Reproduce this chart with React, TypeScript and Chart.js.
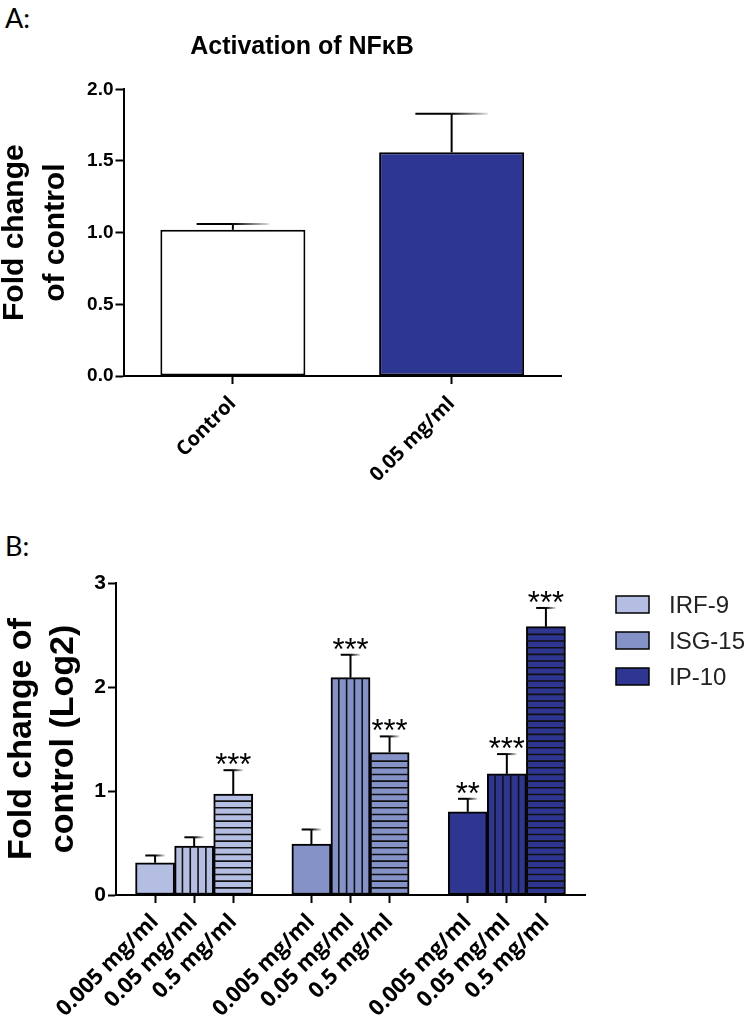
import React, { useEffect, useRef } from 'react';
import { Chart, registerables } from 'chart.js';

Chart.register(...registerables);

// ---------- Panel A data ----------
const labelsA = ['Control', '0.05 mg/ml'];
const valuesA = [1.02, 1.56];
const errorsA = [0.04, 0.27];
const colorsA = ['#ffffff', '#2e3694'];
const yTicksA = ['0.0', '0.5', '1.0', '1.5', '2.0'];
const titleA = 'Activation of NF\u03baB';
const yTitleA = ['Fold change', 'of control'];

// ---------- Panel B data ----------
const genes = ['IRF-9', 'ISG-15', 'IP-10'];
const geneColors = ['#b4bee2', '#8592c8', '#2e3692'];
const doses = ['0.005 mg/ml', '0.05 mg/ml', '0.5 mg/ml'];
const dosePatterns = ['solid', 'vertical', 'horizontal'];
const irf9 = [0.31, 0.47, 0.97];
const isg15 = [0.49, 2.09, 1.37];
const ip10 = [0.8, 1.165, 2.58];
const irf9Err = [0.07, 0.085, 0.23];
const isg15Err = [0.14, 0.22, 0.155];
const ip10Err = [0.125, 0.19, 0.18];
const irf9Sig = ['', '', '***'];
const isg15Sig = ['', '***', '***'];
const ip10Sig = ['**', '***', '***'];
const yTicksB = ['0', '1', '2', '3'];
const yTitleB = ['Fold change of', 'control (Log2)'];

const FONT = 'Liberation Sans';
const LABEL_FONT = 'Open Sans';

// Build the grouped layout: empty slot before, between and after groups
const geneValues = [irf9, isg15, ip10];
const geneErrs = [irf9Err, isg15Err, ip10Err];
const geneSigs = [irf9Sig, isg15Sig, ip10Sig];
const labelsB: string[] = [''];
const valuesB: (number | null)[] = [null];
const errorsB: (number | null)[] = [null];
const sigsB: string[] = [''];
const colorsB: string[] = ['#ffffff'];
const patternsB: string[] = [''];
genes.forEach((_, g) => {
  doses.forEach((d, k) => {
    labelsB.push(d);
    valuesB.push(geneValues[g][k]);
    errorsB.push(geneErrs[g][k]);
    sigsB.push(geneSigs[g][k]);
    colorsB.push(geneColors[g]);
    patternsB.push(dosePatterns[k]);
  });
  labelsB.push('');
  valuesB.push(null);
  errorsB.push(null);
  sigsB.push('');
  colorsB.push('#ffffff');
  patternsB.push('');
});

const errorBarPlugin = {
  id: 'errorBarsAndPatterns',
  afterDatasetsDraw(chart: any) {
    const ctx = chart.ctx;
    const yScale = chart.scales.y;
    chart.data.datasets.forEach((ds: any, di: number) => {
      const meta = chart.getDatasetMeta(di);
      const errs = ds.errorBars || [];
      const sigs = ds.sig || [];
      const patterns = ds.patterns || [];
      meta.data.forEach((el: any, i: number) => {
        const v = ds.data[i];
        if (v === null || v === undefined) return;
        const { x, y, base, width } = el.getProps(['x', 'y', 'base', 'width'], true);
        const left = x - width / 2;
        const right = x + width / 2;
        const p = patterns[i];
        if (p === 'vertical' || p === 'horizontal') {
          ctx.save();
          ctx.beginPath();
          ctx.rect(left, y, width, base - y);
          ctx.clip();
          ctx.strokeStyle = '#111';
          ctx.lineWidth = 1.6;
          ctx.beginPath();
          if (p === 'vertical') {
            for (let k = 1; k < 5; k++) {
              const xx = left + (width * k) / 5;
              ctx.moveTo(xx, y);
              ctx.lineTo(xx, base);
            }
          } else {
            for (let yy = base - 6.67; yy > y + 3; yy -= 6.67) {
              ctx.moveTo(left, yy);
              ctx.lineTo(right, yy);
            }
          }
          ctx.stroke();
          ctx.restore();
        }
        const e = errs[i];
        if (e) {
          const yt = yScale.getPixelForValue(v + e);
          const half = width / 4;
          ctx.save();
          ctx.strokeStyle = '#000';
          ctx.lineWidth = 2;
          ctx.beginPath();
          ctx.moveTo(x, y);
          ctx.lineTo(x, yt);
          ctx.stroke();
          ctx.beginPath();
          ctx.moveTo(x - half, yt);
          ctx.lineTo(x, yt);
          ctx.stroke();
          const grad = ctx.createLinearGradient(x, 0, x + half, 0);
          grad.addColorStop(0, '#000');
          grad.addColorStop(1, '#e0e0e0');
          ctx.strokeStyle = grad;
          ctx.beginPath();
          ctx.moveTo(x, yt);
          ctx.lineTo(x + half, yt);
          ctx.stroke();
          ctx.restore();
          const s = sigs[i];
          if (s) {
            ctx.save();
            ctx.fillStyle = '#000';
            ctx.font = `31px "${FONT}"`;
            ctx.textAlign = 'center';
            ctx.textBaseline = 'alphabetic';
            ctx.fillText(s, x, yt + 5);
            ctx.restore();
          }
        }
      });
    });
  },
};

// Legend for panel B, drawn next to the chart area from the genes / colours arrays
const geneLegendPlugin = {
  id: 'geneLegend',
  afterDraw(chart: any) {
    const ctx = chart.ctx;
    const area = chart.chartArea;
    const boxX = area.right + 31;
    ctx.save();
    genes.forEach((g, i) => {
      const top = area.top + 13 + i * 36;
      ctx.fillStyle = geneColors[i];
      ctx.fillRect(boxX, top, 33, 17);
      ctx.strokeStyle = '#000';
      ctx.lineWidth = 1.5;
      ctx.strokeRect(boxX, top, 33, 17);
      ctx.fillStyle = '#222';
      ctx.font = `24px "${FONT}"`;
      ctx.textAlign = 'left';
      ctx.textBaseline = 'alphabetic';
      ctx.fillText(g, boxX + 53, top + 17);
    });
    ctx.restore();
  },
};

const PAD_A_LEFT = 43;
const CANVAS_A_H = 498;

export default function App() {
  const refA = useRef<HTMLCanvasElement>(null);
  const refB = useRef<HTMLCanvasElement>(null);

  useEffect(() => {
    Chart.defaults.font.family = FONT;
    const chartA = new Chart(refA.current as HTMLCanvasElement, {
      type: 'bar',
      data: {
        labels: labelsA,
        datasets: [
          {
            data: valuesA,
            backgroundColor: colorsA,
            borderColor: '#000',
            borderWidth: 2,
            borderSkipped: false,
            barPercentage: 0.663,
            categoryPercentage: 1,
            errorBars: errorsA,
          } as any,
        ],
      },
      options: {
        responsive: false,
        animation: false,
        layout: { padding: { left: PAD_A_LEFT, right: 189, top: 0, bottom: 0 } },
        plugins: {
          legend: { display: false },
          tooltip: { enabled: false },
          title: {
            display: true,
            text: titleA,
            color: '#000',
            font: { family: FONT, size: 25, weight: 'bold', lineHeight: 1.2 },
            padding: { top: 32.4, bottom: 26.9 },
          },
        },
        scales: {
          x: {
            type: 'category',
            offset: true,
            grid: { offset: false, drawOnChartArea: false, tickLength: 8, tickWidth: 2, tickColor: '#000' },
            border: { color: '#000', width: 2 },
            ticks: {
              autoSkip: false,
              maxRotation: 45,
              minRotation: 45,
              color: '#000',
              padding: 8,
              font: { family: LABEL_FONT, size: 20, weight: 'bold' },
            },
            afterFit: (s: any) => {
              s.height = CANVAS_A_H - 376;
            },
          },
          y: {
            type: 'linear',
            min: 0,
            max: 2,
            ticks: {
              stepSize: 0.5,
              color: '#000',
              padding: 2,
              font: { family: FONT, size: 19, weight: 'bold' },
              callback: (v: any) => yTicksA[Math.round(Number(v) / 0.5)],
            },
            grid: { drawOnChartArea: false, tickLength: 8, tickWidth: 2, tickColor: '#000' },
            border: { color: '#000', width: 2 },
            title: {
              display: true,
              text: yTitleA,
              color: '#000',
              font: { family: FONT, size: 30, weight: 'bold', lineHeight: 1.367 },
              padding: { top: 15.1 - 20.5 - PAD_A_LEFT, bottom: 0 },
            },
            afterFit: (s: any) => {
              s.width = 123.5 - PAD_A_LEFT;
            },
          },
        },
      } as any,
      plugins: [errorBarPlugin],
    });

    const chartB = new Chart(refB.current as HTMLCanvasElement, {
      type: 'bar',
      data: {
        labels: labelsB,
        datasets: [
          {
            data: valuesB,
            backgroundColor: colorsB,
            borderColor: '#000',
            borderWidth: 2,
            borderSkipped: false,
            barPercentage: 1,
            categoryPercentage: 1,
            errorBars: errorsB,
            sig: sigsB,
            patterns: patternsB,
          } as any,
        ],
      },
      options: {
        responsive: false,
        animation: false,
        layout: { padding: { left: 0, right: 165, top: 83, bottom: 0 } },
        plugins: {
          tooltip: { enabled: false },
          title: { display: false },
          legend: { display: false },
        },
        scales: {
          x: {
            type: 'category',
            offset: false,
            grid: {
              offset: false,
              drawOnChartArea: false,
              tickLength: 8,
              tickWidth: 2,
              tickColor: (c: any) => (labelsB[c.index] ? '#000' : 'rgba(0,0,0,0)'),
            },
            border: { color: '#000', width: 2 },
            ticks: {
              autoSkip: false,
              maxRotation: 45,
              minRotation: 45,
              color: '#000',
              padding: 6,
              font: { family: LABEL_FONT, size: 22, weight: 'bold' },
            },
            afterFit: (s: any) => {
              s.height = 135;
            },
          },
          y: {
            type: 'linear',
            min: 0,
            max: 3,
            ticks: {
              stepSize: 1,
              color: '#000',
              padding: 2,
              font: { family: FONT, size: 21, weight: 'bold' },
              callback: (v: any) => yTicksB[Math.round(Number(v))],
            },
            grid: { drawOnChartArea: false, tickLength: 8, tickWidth: 2, tickColor: '#000' },
            border: { color: '#000', width: 2 },
            title: {
              display: true,
              text: yTitleB,
              color: '#000',
              font: { family: FONT, size: 34, weight: 'bold', lineHeight: 1.25 },
              padding: { top: 0, bottom: 0 },
            },
            afterFit: (s: any) => {
              s.width = 116;
            },
          },
        },
      } as any,
      plugins: [errorBarPlugin, geneLegendPlugin],
    });

    return () => {
      chartA.destroy();
      chartB.destroy();
    };
  }, []);

  const panelLabel: React.CSSProperties = {
    position: 'absolute',
    left: 5,
    fontFamily: 'Lato',
    fontSize: 27,
    lineHeight: '27px',
    color: '#000',
  };

  return (
    <div style={{ position: 'absolute', left: 0, top: 0, width: 750, height: 1030, background: '#fff' }}>
      <div style={{ ...panelLabel, top: 4 }}>A:</div>
      <div style={{ ...panelLabel, top: 532 }}>B:</div>
      <canvas ref={refA} width={750} height={CANVAS_A_H} style={{ position: 'absolute', left: 0, top: 0, display: 'block' }} />
      <canvas ref={refB} width={750} height={530} style={{ position: 'absolute', left: 0, top: 500, display: 'block' }} />
    </div>
  );
}
